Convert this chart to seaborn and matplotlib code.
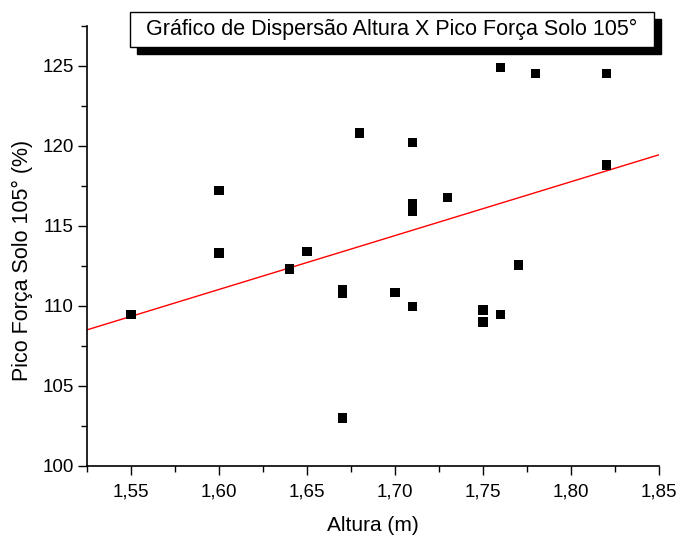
import numpy as np
import pandas as pd
import matplotlib
matplotlib.use("Agg")
import matplotlib.pyplot as plt
from matplotlib.patches import Rectangle
from matplotlib.ticker import MultipleLocator, FuncFormatter
import seaborn as sns

# Data
altura = [1.55, 1.60, 1.60, 1.64, 1.65, 1.67, 1.67, 1.67, 1.68, 1.70,
          1.71, 1.71, 1.71, 1.71, 1.73, 1.75, 1.75, 1.76, 1.76, 1.77,
          1.78, 1.82, 1.82]
pico = [109.45, 117.2, 113.3, 112.3, 113.4, 111.0, 110.75, 103.0, 120.8, 110.85,
        120.2, 116.4, 115.9, 109.95, 116.75, 109.75, 109.0, 109.45, 124.9, 112.55,
        124.5, 124.5, 118.8]

title = "Gráfico de Dispersão Altura X Pico Força Solo 105°"
xlabel = "Altura (m)"
ylabel = "Pico Força Solo 105° (%)"

df = pd.DataFrame({"Altura": altura, "Pico": pico})

sns.set_theme(style="ticks")
plt.rcParams["font.family"] = ["Liberation Sans", "DejaVu Sans"]
plt.rcParams["text.color"] = "black"
plt.rcParams["axes.labelcolor"] = "black"

W, H = 677, 536
fig = plt.figure(figsize=(W / 100, H / 100), dpi=100)
ax = fig.add_axes([87 / W, 1 - 466 / H, (659 - 87) / W, (466 - 25.7) / H])

ax.set_xlim(1.525, 1.85)
ax.set_ylim(100, 127.5)

sns.regplot(data=df, x="Altura", y="Pico", ax=ax, scatter=False, ci=None,
            truncate=False, line_kws=dict(color="red", lw=1.0))
sns.scatterplot(data=df, x="Altura", y="Pico", ax=ax, marker="s", s=44,
                color="black", edgecolor="none", linewidth=0, zorder=3)

ax.set_xlim(1.525, 1.85)
ax.set_ylim(100, 127.5)

ax.xaxis.set_major_locator(MultipleLocator(0.05))
ax.xaxis.set_minor_locator(MultipleLocator(0.025))
ax.yaxis.set_major_locator(MultipleLocator(5))
ax.yaxis.set_minor_locator(MultipleLocator(2.5))
ax.xaxis.set_major_formatter(FuncFormatter(lambda v, p: f"{v:.2f}".replace(".", ",")))
ax.yaxis.set_major_formatter(FuncFormatter(lambda v, p: f"{v:.0f}"))

for s in ["top", "right"]:
    ax.spines[s].set_visible(False)
for s in ["left", "bottom"]:
    ax.spines[s].set_linewidth(1.2)
    ax.spines[s].set_color("black")

ax.tick_params(which="major", direction="out", length=6.5, width=1.0,
               labelsize=13.5, colors="black", labelcolor="black", pad=3)
ax.tick_params(which="minor", direction="out", length=4, width=1.0, colors="black")
ax.tick_params(axis="x", which="major", pad=6)

ax.set_xlabel(xlabel, fontsize=15, labelpad=11, color="black")
ax.set_ylabel(ylabel, fontsize=15.5, color="black")
ax.yaxis.set_label_coords(-0.094, 0.466)

# Title box with drop shadow (figure pixel coordinates)
bx0, by0, bx1, by1 = 130, 12, 654, 47
off = 7
fig.patches.append(Rectangle(((bx0 + off) / W, 1 - (by1 + off) / H),
                             (bx1 - bx0) / W, (by1 - by0) / H,
                             transform=fig.transFigure, facecolor="black",
                             edgecolor="black", zorder=1))
fig.patches.append(Rectangle((bx0 / W, 1 - by1 / H),
                             (bx1 - bx0) / W, (by1 - by0) / H,
                             transform=fig.transFigure, facecolor="white",
                             edgecolor="black", linewidth=1.0, zorder=2))
fig.text((bx0 + bx1) / 2 / W, 1 - (by0 + by1) / 2 / H, title,
         ha="center", va="center", fontsize=15.5, color="black", zorder=3)

fig.savefig("out.png", dpi=100)
